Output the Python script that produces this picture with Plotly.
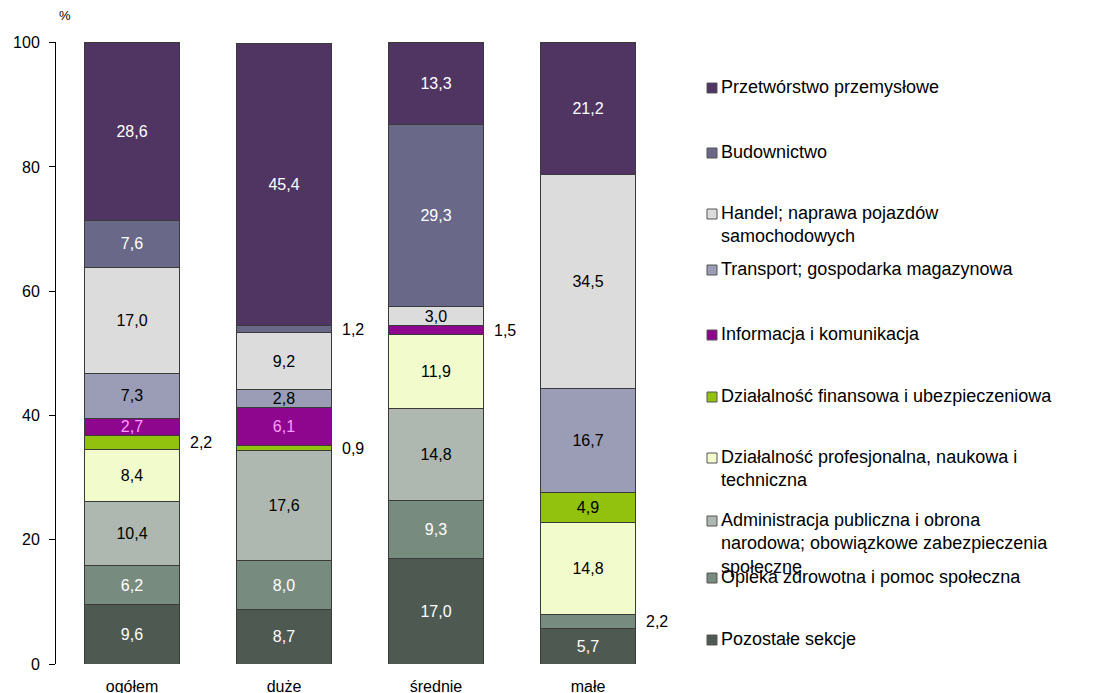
import plotly.graph_objects as go

categories = ["ogółem", "duże", "średnie", "małe"]

# series from bottom to top
series_names = [
    "Pozostałe sekcje",
    "Opieka zdrowotna i pomoc społeczna",
    "Administracja publiczna i obrona<br>narodowa; obowiązkowe zabezpieczenia<br>społeczne",
    "Działalność profesjonalna, naukowa i<br>techniczna",
    "Działalność finansowa i ubezpieczeniowa",
    "Informacja i komunikacja",
    "Transport; gospodarka magazynowa",
    "Handel; naprawa pojazdów<br>samochodowych",
    "Budownictwo",
    "Przetwórstwo przemysłowe",
]
pozostale = [9.6, 8.7, 17.0, 5.7]
opieka = [6.2, 8.0, 9.3, 2.2]
administracja = [10.4, 17.6, 14.8, None]
profesjonalna = [8.4, None, 11.9, 14.8]
finansowa = [2.2, 0.9, None, 4.9]
informacja = [2.7, 6.1, 1.5, None]
transport = [7.3, 2.8, None, 16.7]
handel = [17.0, 9.2, 3.0, 34.5]
budownictwo = [7.6, 1.2, 29.3, None]
przetworstwo = [28.6, 45.4, 13.3, 21.2]
series_values = [pozostale, opieka, administracja, profesjonalna, finansowa,
                 informacja, transport, handel, budownictwo, przetworstwo]

colors = ["#4E5A51", "#788B7F", "#AFB8B0", "#F1FBCB", "#92C20E",
          "#8E058E", "#9A9DB5", "#DCDCDC", "#6A6889", "#503563"]
text_colors = ["white", "white", "black", "black", "black",
               "#FF9CFF", "black", "black", "white", "white"]
# labels drawn beside the bar: (series index, category index)
outside = [(4, 0), (8, 1), (4, 1), (5, 2), (1, 3)]

OFF = 8  # page body margin
W, H = 1094 - OFF, 693 - OFF
L, T = 56 - OFF, 42 - OFF
B = H - (664 - OFF)
R = W - L - 608


def px_x(x):  # page pixel -> paper
    return (x - OFF - L) / (W - L - R)


def px_y(y):
    return (H - B - (y - OFF)) / (H - T - B)


FONT = "Liberation Sans"
fig = go.Figure()
for si, (name, vals) in enumerate(zip(series_names, series_values)):
    texts = []
    for ci, v in enumerate(vals):
        if v is None or (si, ci) in outside:
            texts.append("")
        else:
            texts.append(f"{v:.1f}".replace(".", ","))
    fig.add_trace(go.Bar(
        x=categories, y=vals, name=name, text=texts,
        textposition="inside", insidetextanchor="middle",
        textfont=dict(color=text_colors[si], size=16, family=FONT),
        marker=dict(color=colors[si], line=dict(color="#3a3a3a", width=1)),
        showlegend=False, cliponaxis=False,
    ))

# outside labels
for si, ci in outside:
    vals = series_values[si]
    base = sum((series_values[k][ci] or 0) for k in range(si))
    mid = base + vals[ci] / 2
    fig.add_annotation(x=ci + 0.3125 + 0.055, y=mid, xref="x", yref="y",
                       text=f"{vals[ci]:.1f}".replace(".", ","), showarrow=False,
                       xanchor="left", yanchor="middle",
                       font=dict(size=16, color="black", family=FONT))

# manual legend (top to bottom)
legend_y = [88, 153, 214, 270, 335, 397, 458, 521, 578, 640]
legend_order = list(range(9, -1, -1))
fs = 18
for yy, si in zip(legend_y, legend_order):
    fig.add_shape(type="rect", xref="paper", yref="paper",
                  x0=px_x(707), x1=px_x(717), y0=px_y(yy + 5), y1=px_y(yy - 5),
                  fillcolor=colors[si], line=dict(color="#555555", width=1))
    fig.add_annotation(x=px_x(720), y=px_y(yy - 12), xref="paper", yref="paper",
                       text=series_names[si], showarrow=False, align="left",
                       xanchor="left", yanchor="top", borderpad=0,
                       font=dict(size=fs, color="black", family=FONT))

fig.add_annotation(x=px_x(57), y=px_y(15), xref="paper", yref="paper", text="%",
                   showarrow=False, xanchor="left", yanchor="middle",
                   font=dict(size=13, color="black", family=FONT))

fig.update_layout(
    width=W, height=H, barmode="stack", bargap=0.375,
    margin=dict(l=L, r=R, t=T, b=B, autoexpand=False),
    plot_bgcolor="white", paper_bgcolor="white",
    uniformtext=dict(minsize=16, mode="show"),
    font=dict(family=FONT, color="black"),
)
fig.update_xaxes(range=[-0.5, 3.5], showline=False, showgrid=False, ticks="outside",
                 ticklen=8, tickcolor="rgba(0,0,0,0)",
                 tickfont=dict(size=16, color="black"))
fig.update_yaxes(range=[0, 100.1], tickvals=[0, 20, 40, 60, 80, 100], showgrid=False,
                 zeroline=False, showline=True, linecolor="black", linewidth=1,
                 ticks="outside", ticklen=6, tickcolor="black", ticklabelstandoff=6,
                 tickfont=dict(size=16, color="black"))

fig.write_html("out.html")
